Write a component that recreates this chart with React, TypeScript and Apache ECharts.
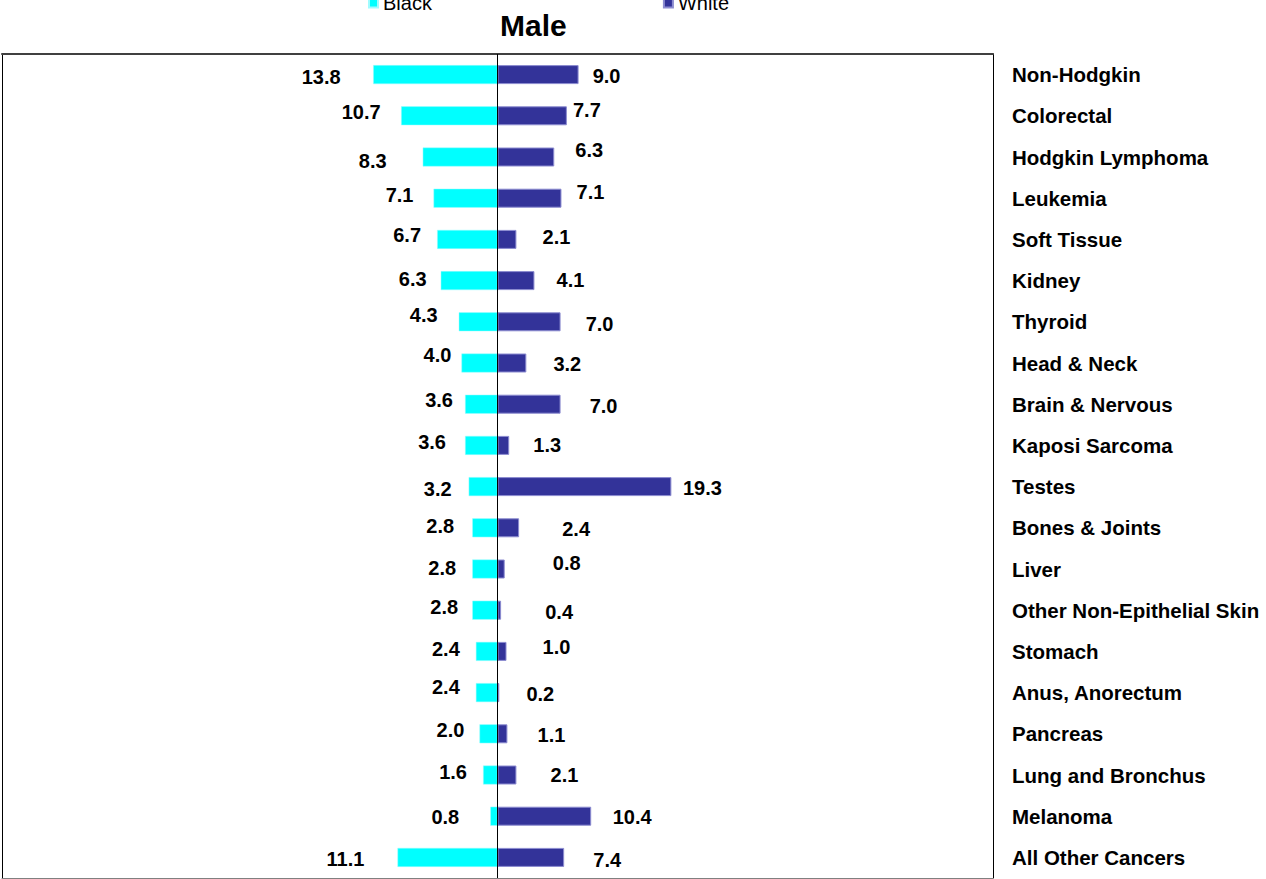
import React, { useEffect, useRef } from "react";
import * as echarts from "echarts";

const categories = [
  "Non-Hodgkin",
  "Colorectal",
  "Hodgkin Lymphoma",
  "Leukemia",
  "Soft Tissue",
  "Kidney",
  "Thyroid",
  "Head & Neck",
  "Brain & Nervous",
  "Kaposi Sarcoma",
  "Testes",
  "Bones & Joints",
  "Liver",
  "Other Non-Epithelial Skin",
  "Stomach",
  "Anus, Anorectum",
  "Pancreas",
  "Lung and Bronchus",
  "Melanoma",
  "All Other Cancers",
];

const blackValues = [13.8, 10.7, 8.3, 7.1, 6.7, 6.3, 4.3, 4.0, 3.6, 3.6, 3.2, 2.8, 2.8, 2.8, 2.4, 2.4, 2.0, 1.6, 0.8, 11.1];
const whiteValues = [9.0, 7.7, 6.3, 7.1, 2.1, 4.1, 7.0, 3.2, 7.0, 1.3, 19.3, 2.4, 0.8, 0.4, 1.0, 0.2, 1.1, 2.1, 10.4, 7.4];

// hand-placed label nudges from the bar end (as in the original)
const blackLabelNudge = [
  [-52, 2], [-40, -4], [-50, 4], [-34, -3], [-30, -4], [-28, -2], [-35, -7], [-24, -8], [-26, -4], [-33, -3],
  [-31, 2], [-32, -2], [-30, -1], [-28, -3], [-30, -2], [-30, -6], [-29, -4], [-30, -3], [-45, 1], [-52, 2],
];
const whiteLabelNudge = [
  [28, 1], [20, -6], [35, -7], [29, -6], [40, -2], [36, -1], [39, 2], [41, 1], [43, 2], [38, 0],
  [31, 1], [57, 1], [62, -6], [58, 2], [50, -4], [41, 1], [44, 1], [48, 0], [41, 1], [43, 3],
];

const FONT = "'Liberation Sans', Arial, Helvetica, sans-serif";

export default function App() {
  const ref = useRef<HTMLDivElement>(null);

  useEffect(() => {
    if (!ref.current) return;
    const chart = echarts.init(ref.current, undefined, { renderer: "svg" });

    const labelBase = {
      show: true,
      distance: 0,
      align: "center" as const,
      verticalAlign: "middle" as const,
      color: "#000",
      fontFamily: FONT,
      fontWeight: "bold" as const,
      fontSize: 20,
      formatter: (p: any) => Math.abs(p.value).toFixed(1),
    };

    const blackData = blackValues.map((v, i) => ({
      value: -v,
      label: { offset: blackLabelNudge[i] },
    }));
    const whiteData = whiteValues.map((v, i) => ({
      value: v,
      label: { offset: whiteLabelNudge[i] },
    }));

    const hiddenValueAxis = {
      type: "value" as const,
      min: -55,
      max: 55,
      axisLabel: { show: false },
      axisTick: { show: false },
      splitLine: { show: false },
    };

    chart.setOption({
      animation: false,
      backgroundColor: "#fff",
      title: {
        text: "Male",
        left: 500,
        top: 10,
        padding: 0,
        textStyle: { fontFamily: FONT, fontWeight: "bold", fontSize: 30, color: "#000" },
      },
      legend: {
        data: ["Black", "White"],
        left: 368,
        top: -7,
        padding: 0,
        icon: "rect",
        itemWidth: 9,
        itemHeight: 9,
        itemTextGap: 6,
        itemGap: 231,
        textStyle: { fontFamily: FONT, fontSize: 20, color: "#000" },
      },
      grid: { left: 2, right: 273, top: 54, bottom: 1, containLabel: false },
      xAxis: [
        {
          ...hiddenValueAxis,
          position: "top",
          axisLine: { show: true, onZero: false, lineStyle: { color: "#404040", width: 2 } },
        },
        {
          ...hiddenValueAxis,
          position: "bottom",
          axisLine: { show: true, onZero: false, lineStyle: { color: "#808080", width: 1 } },
        },
      ],
      yAxis: [
        {
          type: "category",
          data: categories,
          inverse: true,
          position: "right",
          axisLine: { show: true, onZero: false, lineStyle: { color: "#000", width: 1 } },
          axisTick: { show: false },
          splitLine: { show: false },
          axisLabel: {
            margin: 19,
            align: "left",
            color: "#000",
            fontFamily: FONT,
            fontWeight: "bold",
            fontSize: 20.5,
          },
        },
        {
          type: "category",
          data: categories,
          inverse: true,
          position: "left",
          axisLine: { show: true, onZero: false, lineStyle: { color: "#000", width: 1 } },
          axisTick: { show: false },
          axisLabel: { show: false },
          splitLine: { show: false },
        },
      ],
      series: [
        {
          name: "Black",
          type: "bar",
          xAxisIndex: 0,
          yAxisIndex: 0,
          data: blackData,
          barWidth: 19,
          barGap: "-100%",
          itemStyle: { color: "#00FFFF", borderColor: "#9ffcff", borderWidth: 0.5 },
          label: { ...labelBase, position: "left" },
        },
        {
          name: "White",
          type: "bar",
          xAxisIndex: 0,
          yAxisIndex: 0,
          data: whiteData,
          barWidth: 19,
          barGap: "-100%",
          itemStyle: { color: "#333399", borderColor: "#8c8cd0", borderWidth: 1 },
          label: { ...labelBase, position: "right" },
          markLine: {
            silent: true,
            symbol: ["none", "none"],
            label: { show: false },
            lineStyle: { color: "#000", width: 1, type: "solid" },
            data: [{ xAxis: 0 }],
          },
        },
      ],
    });

    return () => chart.dispose();
  }, []);

  return (
    <div
      ref={ref}
      style={{ position: "absolute", left: 0, top: 0, width: 1266, height: 879 }}
    />
  );
}
